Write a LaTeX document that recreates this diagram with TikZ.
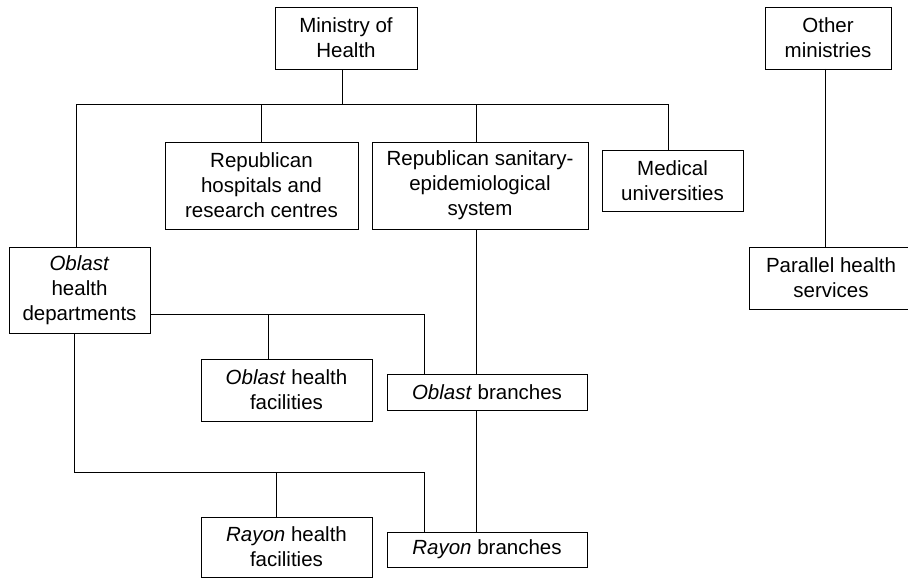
\documentclass[tikz,border=0pt]{standalone}
\usepackage{fontspec}
\setmainfont{Liberation Sans}
\begin{document}
\begin{tikzpicture}[x=1pt,y=-1pt,
  box/.style={draw, line width=0.9pt, align=center, inner sep=0pt,
    font=\fontsize{20.5}{25}\selectfont},
  conn/.style={line width=0.9pt}]
\useasboundingbox (0,0) rectangle (908,578);
\node[box, minimum width=142, minimum height=62] (min) at (346,38) {Ministry of\\Health};
\node[box, minimum width=126, minimum height=62] (om) at (828,38) {Other\\ministries};
\node[box, minimum width=164, minimum height=62] (phs) at (831,278) {Parallel health\\services};
\node[box, minimum width=193, minimum height=87] (rh) at (261.5,185.5) {Republican\\hospitals and\\research centres};
\node[box, minimum width=216, minimum height=87] (rs) at (480,185.5) {Republican sanitary-\\epidemiological\\system};
\node[box, minimum width=141, minimum height=61] (mu) at (672.5,180.5) {Medical\\universities};
\node[box, minimum width=141, minimum height=86] (od) at (79.5,290) {\textit{Oblast}\\health\\departments};
\node[box, minimum width=171, minimum height=62] (ohf) at (286.5,390) {\textit{Oblast} health\\facilities};
\node[box, minimum width=200, minimum height=36] (ob) at (487,392) {\textit{Oblast} branches};
\node[box, minimum width=171, minimum height=60] (rhf) at (286.5,547) {\textit{Rayon} health\\facilities};
\node[box, minimum width=200, minimum height=35] (rb) at (487,549.5) {\textit{Rayon} branches};
% bus from ministry
\coordinate (busL) at (76,104);
\coordinate (busR) at (668,104);
\coordinate (busM) at (342,104);
\coordinate (busS) at (476,104);
\draw[conn] (min.south -| busM) -- (busM);
\draw[conn] (busL |- od.north) -- (busL) -- (busR) -- (busR |- mu.north);
\draw[conn] (rh.north) -- (rh.north |- busL);
\draw[conn] (busS) -- (busS |- rs.north);
% other ministries
\coordinate (omx) at (825,69);
\draw[conn] (omx) -- (omx |- phs.north);
% sanitary system chain
\draw[conn] (busS |- rs.south) -- (busS |- ob.north);
\draw[conn] (busS |- ob.south) -- (busS |- rb.north);
% oblast departments to oblast level
\coordinate (oR) at (424,314);
\coordinate (ohfx) at (268,314);
\draw[conn] (od.east |- oR) -- (oR) -- (oR |- ob.north);
\draw[conn] (ohfx) -- (ohfx |- ohf.north);
% oblast departments to rayon level
\coordinate (rL) at (74,472);
\coordinate (rR) at (424,472);
\coordinate (rhfx) at (276,472);
\draw[conn] (rL |- od.south) -- (rL) -- (rR) -- (rR |- rb.north);
\draw[conn] (rhfx) -- (rhfx |- rhf.north);
\end{tikzpicture}
\end{document}
